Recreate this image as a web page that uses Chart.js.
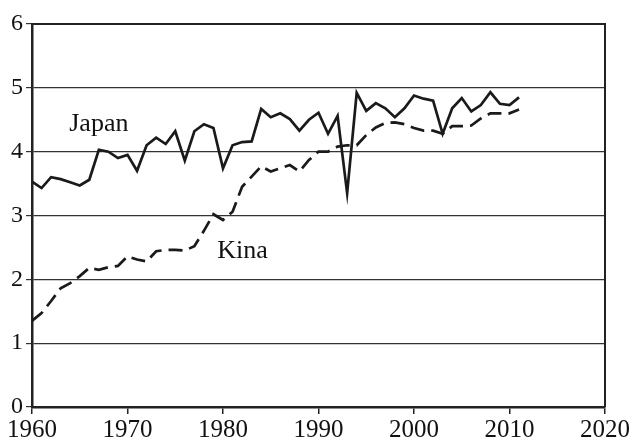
<!DOCTYPE html>
<html>
<head>
<meta charset="utf-8">
<script src="https://cdn.jsdelivr.net/npm/chart.js@4/dist/chart.umd.min.js"></script>
<style>
  html, body { margin: 0; padding: 0; background: #fff; }
  #wrap { width: 631px; height: 446px; position: relative; }
  .pre { font-family: 'Liberation Serif'; position: absolute; left: -999px; }
</style>
</head>
<body>
<span class="pre">0123456789 Japan Kina</span>
<div id="wrap"><canvas id="c"></canvas></div>
<script>
const years = [];
for (let y = 1960; y <= 2011; y++) years.push(y);

const japan = [3.53, 3.43, 3.60, 3.57, 3.52, 3.47, 3.56, 4.03, 4.00, 3.90,
               3.95, 3.70, 4.10, 4.22, 4.12, 4.32, 3.86, 4.32, 4.43, 4.37,
               3.74, 4.10, 4.15, 4.16, 4.67, 4.54, 4.60, 4.51, 4.33, 4.50,
               4.61, 4.28, 4.56, 3.35, 4.92, 4.64, 4.76, 4.68, 4.54, 4.68,
               4.88, 4.83, 4.80, 4.28, 4.68, 4.84, 4.63, 4.73, 4.93, 4.75,
               4.73, 4.85];

const kina = [1.35, 1.47, 1.66, 1.86, 1.94, 2.05, 2.18, 2.15, 2.19, 2.21,
              2.36, 2.31, 2.28, 2.44, 2.46, 2.46, 2.45, 2.52, 2.76, 3.02,
              2.93, 3.06, 3.45, 3.61, 3.77, 3.69, 3.74, 3.79, 3.69, 3.87,
              4.00, 4.00, 4.08, 4.10, 4.10, 4.26, 4.38, 4.45, 4.46, 4.43,
              4.37, 4.33, 4.33, 4.28, 4.40, 4.40, 4.41, 4.52, 4.60, 4.60,
              4.60, 4.66];

const xTicks = [1960, 1970, 1980, 1990, 2000, 2010, 2020];
const yTicks = [0, 1, 2, 3, 4, 5, 6];
const seriesNames = ['Japan', 'Kina'];

const FONT = "'Liberation Serif', 'Times New Roman', Times, serif";
const toPts = (vals) => vals.map((v, i) => ({ x: years[i], y: v }));

const labelPlugin = {
  id: 'seriesLabels',
  afterDatasetsDraw(chart) {
    const { ctx, scales } = chart;
    ctx.save();
    ctx.fillStyle = '#111';
    ctx.font = '26px ' + FONT;
    ctx.textBaseline = 'alphabetic';
    ctx.textAlign = 'left';
    ctx.fillText(seriesNames[0], scales.x.getPixelForValue(1963.9), scales.y.getPixelForValue(4.33));
    ctx.fillText(seriesNames[1], scales.x.getPixelForValue(1979.4), scales.y.getPixelForValue(2.34));
    ctx.restore();
  }
};

const framePlugin = {
  id: 'frame',
  afterDraw(chart) {
    const { ctx, chartArea: a } = chart;
    ctx.save();
    ctx.strokeStyle = '#222';
    ctx.lineWidth = 2;
    ctx.beginPath();
    ctx.moveTo(a.left, a.top);
    ctx.lineTo(a.right, a.top);
    ctx.lineTo(a.right, a.bottom);
    ctx.stroke();
    ctx.restore();
  }
};

function build() {
  new Chart(document.getElementById('c'), {
    type: 'line',
    data: {
      datasets: [
        {
          label: seriesNames[0],
          data: toPts(japan),
          borderColor: '#1a1a1a',
          borderWidth: 2.7,
          pointRadius: 0,
          tension: 0,
          fill: false
        },
        {
          label: seriesNames[1],
          data: toPts(kina),
          borderColor: '#1a1a1a',
          borderWidth: 2.7,
          borderDash: [14, 7],
          pointRadius: 0,
          tension: 0,
          fill: false
        }
      ]
    },
    options: {
      responsive: true,
      maintainAspectRatio: false,
      animation: false,
      devicePixelRatio: 1,
      layout: { padding: { left: 0, right: 26, top: 24, bottom: 0 } },
      plugins: {
        legend: { display: false },
        tooltip: { enabled: false }
      },
      scales: {
        x: {
          type: 'linear',
          min: 1960,
          max: 2020,
          afterBuildTicks: (s) => { s.ticks = xTicks.map(v => ({ value: v })); },
          afterFit: (s) => { s.height = 39; },
          grid: { display: true, drawOnChartArea: false, drawTicks: true, tickLength: 7, color: '#222', lineWidth: 1.5 },
          border: { display: true, color: '#222', width: 2.5 },
          ticks: {
            color: '#111',
            padding: 1,
            maxRotation: 0,
            autoSkip: false,
            font: { family: FONT, size: 25 },
            callback: (v) => String(v)
          }
        },
        y: {
          min: 0,
          max: 6,
          afterBuildTicks: (s) => { s.ticks = yTicks.map(v => ({ value: v })); },
          afterFit: (s) => { s.width = 32; },
          grid: { display: true, drawTicks: true, tickLength: 6, color: '#333', lineWidth: 1.2 },
          border: { display: true, color: '#222', width: 2.5 },
          ticks: {
            color: '#111',
            padding: 3,
            font: { family: FONT, size: 24 },
            callback: (v) => String(v)
          }
        }
      }
    },
    plugins: [labelPlugin, framePlugin]
  });
}

if (document.fonts && document.fonts.load) {
  Promise.all([
    document.fonts.load("26px 'Liberation Serif'"),
    document.fonts.load("24px 'Liberation Serif'")
  ]).then(build, build);
} else {
  build();
}
</script>
</body>
</html>
